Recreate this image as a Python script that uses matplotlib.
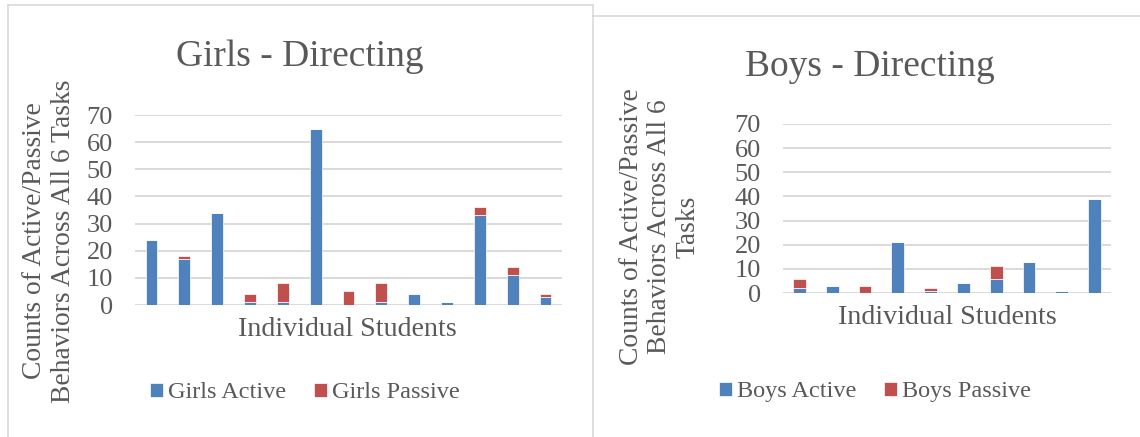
import matplotlib
matplotlib.use("Agg")
import matplotlib.pyplot as plt
from matplotlib.lines import Line2D
import numpy as np

# Girls: directing behaviours per student
girls_active = [24, 17, 34, 1, 1, 65, 0, 1, 4, 1, 33, 11, 3]
girls_passive = [0, 1, 0, 3, 7, 0, 5, 7, 0, 0, 3, 3, 1]

# Boys: directing behaviours per student
boys_active = [2, 3, 0, 21, 1, 4, 6, 13, 1, 39]
boys_passive = [4, 0, 3, 0, 1, 0, 5, 0, 0, 0]

y_ticks = [0, 10, 20, 30, 40, 50, 60, 70]

BLUE = "#4F81BD"
RED = "#C0504D"
TEXT = "#595959"
GRID = "#D9D9D9"

plt.rcParams["font.family"] = ["Liberation Serif", "DejaVu Serif"]

W, H = 1140, 437
fig = plt.figure(figsize=(W / 100, H / 100), dpi=100)


def fx(x):
    return x / W


def fy(y):
    return 1 - y / H


def px_axes(x0, y_top, x1, y_bot):
    return fig.add_axes([fx(x0), fy(y_bot), (x1 - x0) / W, (y_bot - y_top) / H])


def draw_panel(ax, active, passive, bar_w, title, title_xy, ylabel, ylabel_xy,
               xlabel_xy, legend_xy, names):
    n = len(active)
    x = np.arange(n)
    ax.bar(x, active, width=bar_w, color=BLUE, edgecolor="white", linewidth=0.5,
           label=names[0], zorder=3)
    ax.bar(x, passive, width=bar_w, bottom=active, color=RED, edgecolor="white",
           linewidth=0.5, label=names[1], zorder=3)
    ax.set_xlim(-0.5, n - 0.5)
    ax.set_ylim(0, 70)
    ax.set_yticks(y_ticks)
    ax.set_xticks([])
    for s in ax.spines.values():
        s.set_visible(False)
    ax.yaxis.grid(True, color=GRID, linewidth=1.4, zorder=0)
    ax.tick_params(axis="y", length=0, pad=16, labelsize=19, labelcolor=TEXT)
    ax.set_facecolor("none")

    fig.text(fx(title_xy[0]), fy(title_xy[1]), title, fontsize=27,
             color=TEXT, ha="center", va="baseline")
    fig.text(fx(ylabel_xy[0]), fy(ylabel_xy[1]), ylabel, fontsize=19.8,
             color=TEXT, ha="center", va="center", rotation=90,
             multialignment="center", linespacing=1.17)
    fig.text(fx(xlabel_xy[0]), fy(xlabel_xy[1]), "Individual Students",
             fontsize=20.2, color=TEXT, ha="center", va="baseline")
    fig.legend(*ax.get_legend_handles_labels(), loc="center",
               bbox_to_anchor=(fx(legend_xy[0]), fy(legend_xy[1])),
               ncol=2, frameon=False, fontsize=17.5, labelcolor=TEXT,
               handlelength=0.53, handleheight=0.53, handletextpad=0.2,
               columnspacing=1.15, borderpad=0, borderaxespad=0)


ax_g = px_axes(135, 115, 562, 305)
draw_panel(ax_g, girls_active, girls_passive, 0.36, "Girls - Directing", (300, 66),
           "Counts of Active/Passive\nBehaviors Across All 6 Tasks", (49, 241),
           (347, 336), (305, 393), ["Girls Active", "Girls Passive"])

ax_b = px_axes(783, 124, 1111, 293)
draw_panel(ax_b, boys_active, boys_passive, 0.385, "Boys - Directing", (870, 76),
           "Counts of Active/Passive\nBehaviors Across All 6\nTasks", (660, 227),
           (947, 324), (875, 392), ["Boys Active", "Boys Passive"])


# chart-area frames
def fline(x0, y0, x1, y1):
    fig.add_artist(Line2D([fx(x0), fx(x1)], [fy(y0), fy(y1)],
                          transform=fig.transFigure, color=GRID, linewidth=1.2))


fline(8, 5, 593, 5)
fline(8, 5, 8, H)
fline(593, 5, 593, H)
fline(593, 16, W, 16)

fig.savefig("out.png", dpi=100)
